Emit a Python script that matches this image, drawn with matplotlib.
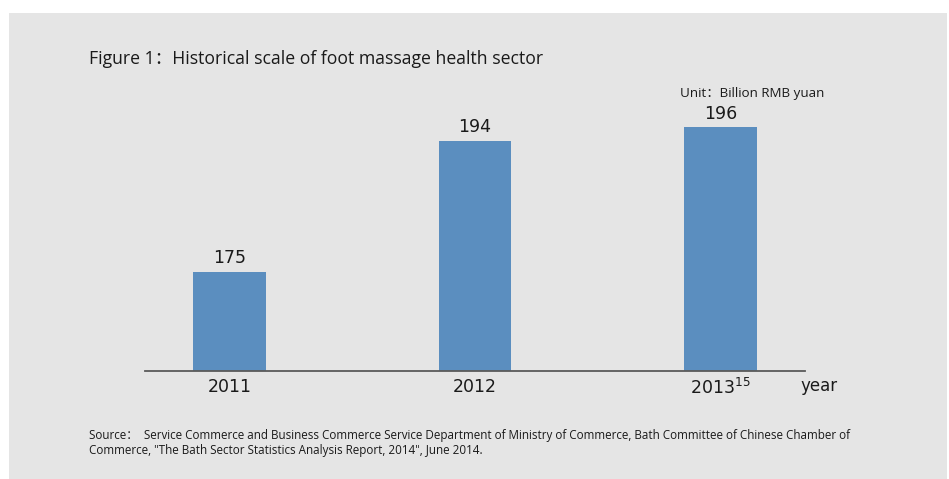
import matplotlib.pyplot as plt
from matplotlib.patches import Rectangle

# market size by year, billion RMB yuan
years = ['2011', '2012', '2013']
sizes = [175, 194, 196]
year_notes = ['', '', '15']

plt.rcParams['font.family'] = ['Open Sans', 'DejaVu Sans']
plt.rcParams['mathtext.default'] = 'regular'

W, H = 949, 479
fig = plt.figure(figsize=(W / 100, H / 100), dpi=100)
fig.patch.set_facecolor('white')

# grey panel behind everything
fig.patches.append(Rectangle((9 / W, 0), 938 / W, 1 - 13 / H,
                             transform=fig.transFigure, facecolor='#e5e5e5',
                             edgecolor='none', zorder=-5))

ax = fig.add_axes([145 / W, 108 / H, 660 / W, 271 / H])
ax.set_zorder(2)
ax.patch.set_alpha(0)

x = range(len(years))
bars = ax.bar(x, sizes, width=0.297, color='#5b8ebf', zorder=2)
ax.set_xlim(-0.344, 2.344)
ax.set_ylim(160.5, 200)

for b, v in zip(bars, sizes):
    ax.text(b.get_x() + b.get_width() / 2, v + 0.7, str(v), ha='center',
            va='bottom', fontsize=12.5, color='#1a1a1a', family='DejaVu Sans')

ax.set_xticks(list(x))
ax.set_xticklabels([y + ('$^{%s}$' % n if n else '') for y, n in zip(years, year_notes)],
                   fontsize=12.5, color='#1a1a1a', family='DejaVu Sans')
ax.tick_params(axis='x', length=0, pad=5)
ax.set_yticks([])
for s in ['left', 'right', 'top']:
    ax.spines[s].set_visible(False)
ax.spines['bottom'].set_color('#5a5a5a')
ax.spines['bottom'].set_linewidth(1.3)

fig.text(800 / W, 1 - 386 / H, 'year', fontsize=12, va='center',
         color='#1a1a1a', family='DejaVu Sans')

fig.text(89 / W, 1 - 59 / H, 'Figure 1：Historical scale of foot massage health sector',
         fontsize=12.7, va='center', color='#1a1a1a',
         family=['Open Sans', 'Noto Sans CJK SC'])
fig.text(680 / W, 1 - 93 / H, 'Unit：Billion RMB yuan', fontsize=9.6,
         va='center', color='#1a1a1a', family=['Open Sans', 'Noto Sans CJK SC'])

fig.text(89 / W, 1 - 443 / H,
         'Source：  Service Commerce and Business Commerce Service Department of Ministry of Commerce, '
         'Bath Committee of Chinese Chamber of\n'
         'Commerce, "The Bath Sector Statistics Analysis Report, 2014", June 2014.',
         fontsize=8.42, va='center', linespacing=1.15, color='#1a1a1a',
         family=['Open Sans', 'Noto Sans CJK SC'])

fig.savefig('out.png', dpi=100)
